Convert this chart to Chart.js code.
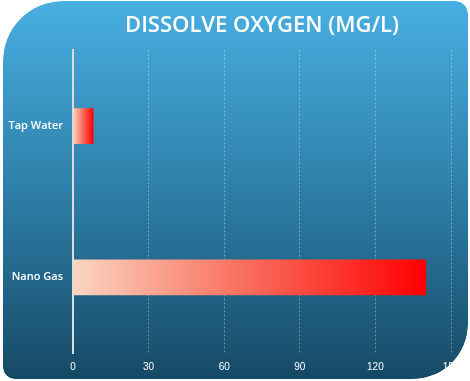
<!DOCTYPE html>
<html><head><meta charset="utf-8">
<script src="https://cdn.jsdelivr.net/npm/chart.js@4.4.1/dist/chart.umd.min.js"></script>
<style>html,body{margin:0;padding:0;background:#fff;}#wrap{width:470px;height:381px;}</style>
</head><body><div id="wrap"><canvas id="c" width="470" height="381"></canvas></div>
<script>
const categories = ['Tap Water', 'Nano Gas'];
const oxygenValues = [8, 140];
const titleText = 'DISSOLVE OXYGEN (MG/L)';
const xTickMax = 150;
const xTickStep = 30;

function shapePath(ctx){
  const L=3,T=1,R=468,B=379;
  const rTL=60,rTR=13,rBR=55,rBL=12;
  ctx.moveTo(L+rTL,T);
  ctx.lineTo(R-rTR,T);
  ctx.arcTo(R,T,R,T+rTR,rTR);
  ctx.lineTo(R,B-rBR);
  ctx.arcTo(R,B,R-rBR,B,rBR);
  ctx.lineTo(L+rBL,B);
  ctx.arcTo(L,B,L,B-rBL,rBL);
  ctx.lineTo(L,T+rTL);
  ctx.arcTo(L,T,L+rTL,T,rTL);
  ctx.closePath();
}
const bgPlugin = {
  id:'bg',
  beforeDraw(chart){
    const ctx=chart.ctx;
    ctx.save();
    const g=ctx.createLinearGradient(0,0,0,381);
    g.addColorStop(0,'#48AFE2');
    g.addColorStop(0.5,'#2E7FA8');
    g.addColorStop(1,'#154965');
    ctx.beginPath(); shapePath(ctx);
    ctx.fillStyle=g; ctx.fill();
    ctx.restore();
  },
  afterDraw(chart){
    const ctx=chart.ctx;
    ctx.save();
    ctx.beginPath();
    ctx.rect(0,0,470,381);
    shapePath(ctx);
    ctx.fillStyle='#ffffff';
    ctx.fill('evenodd');
    ctx.restore();
  }
};

new Chart(document.getElementById('c'), {
  type:'bar',
  data:{
    labels:categories,
    datasets:[{
      data:oxygenValues,
      barThickness:35,
      borderWidth:0,
      backgroundColor(c){
        const ch=c.chart;
        if(!ch.chartArea) return '#ff0000';
        const xs=ch.scales.x;
        const x0=xs.getPixelForValue(0), x1=xs.getPixelForValue(c.raw);
        const g=ch.ctx.createLinearGradient(x0,0,x1,0);
        g.addColorStop(0,'#FAD6C0');
        g.addColorStop(0.5,'#F96B5B');
        g.addColorStop(1,'#FF0000');
        return g;
      }
    }]
  },
  options:{
    indexAxis:'y',
    responsive:false,
    animation:false,
    devicePixelRatio:1,
    layout:{padding:{top:1,right:19,bottom:0,left:0}},
    plugins:{
      legend:{display:false},
      tooltip:{enabled:false},
      title:{
        display:true,
        text:titleText,
        fullSize:false,
        color:'#ffffff',
        font:{family:'Open Sans',size:22,weight:'600',lineHeight:1.2},
        padding:{top:12,bottom:11}
      }
    },
    scales:{
      x:{
        min:0,max:xTickMax,
        ticks:{stepSize:xTickStep,color:'#ffffff',font:{family:'Liberation Sans',size:10},padding:8,maxRotation:0},
        grid:{color:'rgba(255,255,255,0.35)',lineWidth:1,drawTicks:false},
        border:{display:false,dash:[2,2]},
        afterFit(s){s.height=28;}
      },
      y:{
        ticks:{color:'#ffffff',font:{family:'Open Sans',size:11,weight:'600'},padding:10},
        grid:{display:false,drawTicks:false},
        border:{display:true,color:'#dcdcdc',width:2},
        afterFit(s){s.width=73;}
      }
    }
  },
  plugins:[bgPlugin]
});
</script>
</body></html>
